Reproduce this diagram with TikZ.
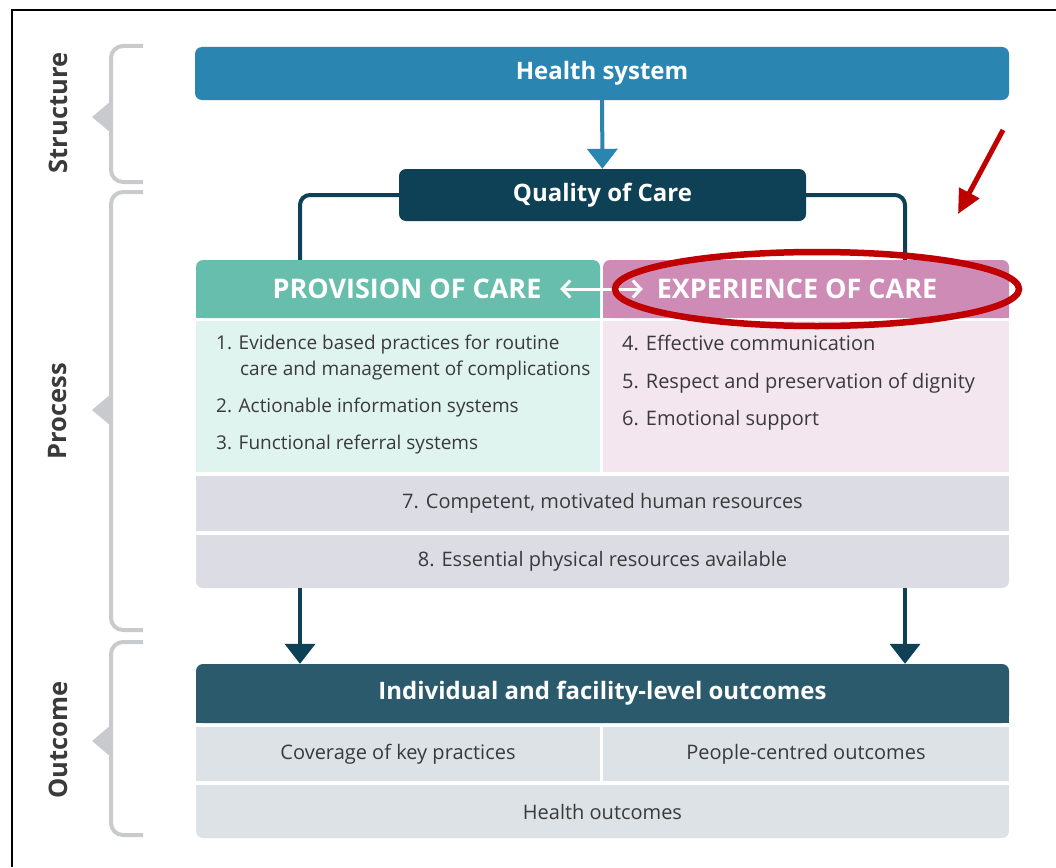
\documentclass[tikz,border=0pt]{standalone}
\usepackage{fontspec}
\setmainfont{Open Sans}
\usetikzlibrary{arrows.meta, positioning, backgrounds}
\definecolor{qochealth}{HTML}{2A86B0}
\definecolor{qocdark}{HTML}{0E4056}
\definecolor{qocteal}{HTML}{67BEAC}
\definecolor{qocpink}{HTML}{CE8BB6}
\definecolor{qoctealbg}{HTML}{DFF3EF}
\definecolor{qocpinkbg}{HTML}{F3E6EF}
\definecolor{qocres}{HTML}{DCDCE5}
\definecolor{qocout}{HTML}{2C5A6D}
\definecolor{qocoutbg}{HTML}{DCE2E6}
\definecolor{qocbrace}{HTML}{C9CACD}
\definecolor{qoctext}{HTML}{3A3A3A}
\definecolor{qocred}{HTML}{C00000}

\begin{document}
\begin{tikzpicture}[x=1pt, y=-1pt,
  head/.style={rectangle, rounded corners=7pt, inner sep=0pt, text=white, font=\fontsize{24}{28}\selectfont\bfseries},
  panel/.style={rectangle, inner sep=0pt, text=qoctext, font=\fontsize{20}{24}\selectfont},
  items/.style={anchor=north west, inner sep=0pt, align=left, text=qoctext, font=\fontsize{19}{26}\selectfont},
  side/.style={rotate=90, inner sep=0pt, text=qoctext, font=\fontsize{25.5}{28}\selectfont\bfseries},
  brace/.style={draw=qocbrace, line width=4pt, rounded corners=12pt},
  link/.style={draw=qocdark, line width=4pt, rounded corners=10pt},
  harrow/.style={draw=qochealth, line width=4pt, -{Triangle[width=30pt,length=20pt]}},
  down/.style={draw=qocdark, line width=4pt, -{Triangle[width=30pt,length=20pt]}},
  both/.style={draw=white, line width=3pt, {Straight Barb[length=8pt,width=17pt]}-{Straight Barb[length=8pt,width=17pt]}},
  redring/.style={draw=qocred, line width=6.5pt},
  redarrow/.style={draw=qocred, line width=5pt, -{Triangle[width=22pt,length=24pt]}}
]
\useasboundingbox (0,0) rectangle (1056,867);
\draw[line width=2pt] (1056,10) -- (12,10) -- (12,867);

% side brackets
\foreach \top/\bot/\mid in {46/182/117, 192/630/410, 642/835/741}{
  \draw[brace] (143,\top) -- (111,\top) -- (111,\bot) -- (143,\bot);
  \fill[qocbrace] (111,\mid-16) -- (92,\mid) -- (111,\mid+16) -- cycle;
}
\node[side] (structure) at (58,113) {Structure};
\node[side] (process) at (58,411) {Process};
\node[side] (outcome) at (58,740) {Outcome};

% structure
\node[head, fill=qochealth, minimum width=814, minimum height=53] (health) at (602,73.5) {Health system};
\node[head, fill=qocdark, minimum width=407, minimum height=52] (qoc) at (602.5,195) {Quality of Care};

% process
\node[head, fill=qocteal, minimum width=404, minimum height=58, font=\fontsize{27}{30}\selectfont\bfseries] (provhead) at (398,289) {\hspace*{18pt}PROVISION OF CARE};
\node[head, fill=qocpink, minimum width=406, minimum height=58, font=\fontsize{27}{30}\selectfont\bfseries] (exphead) at (806,289) {EXPERIENCE OF CARE\hspace*{18pt}};
\node[panel, fill=qoctealbg, minimum width=404, minimum height=151] (provbody) at (398,396.5) {};
\node[panel, fill=qocpinkbg, minimum width=406, minimum height=151] (expbody) at (806,396.5) {};
\node[items] (provlist) at (216,335) {1. Evidence based practices for routine\\
  \hspace*{24pt}care and management of complications\\[11pt]
  2. Actionable information systems\\[11pt]
  3. Functional referral systems};
\node[items, font=\fontsize{20}{26}\selectfont] (explist) at (622,335) {4. Effective communication\\[11.5pt]
  5. Respect and preservation of dignity\\[11.5pt]
  6. Emotional support};
\node[panel, fill=qocres, minimum width=813, minimum height=55] (res7) at (602.5,503.5) {7. Competent, motivated human resources};
\node[panel, fill=qocres, minimum width=813, minimum height=53, rounded corners=7pt] (res8) at (602.5,561.5) {8. Essential physical resources available};

% outcome
\node[head, fill=qocout, minimum width=813, minimum height=59] (outhead) at (602.5,693.5) {Individual and facility-level outcomes};
\node[panel, fill=qocoutbg, minimum width=404, minimum height=54] (cov) at (398,754) {Coverage of key practices};
\node[panel, fill=qocoutbg, minimum width=406, minimum height=54] (people) at (806,754) {People-centred outcomes};
\node[panel, fill=qocoutbg, minimum width=813, minimum height=53, rounded corners=7pt] (healthout) at (602.5,811.5) {Health outcomes};

% square off the inner corners
\begin{scope}[on background layer]
  \fill[qocteal] (provhead.west) rectangle (provhead.south east);
  \fill[qocpink] (exphead.west) rectangle (exphead.south east);
  \fill[qocres] (res8.north west) rectangle (res8.east);
  \fill[qocout] (outhead.west) rectangle (outhead.south east);
  \fill[qocoutbg] (healthout.north west) rectangle (healthout.east);
\end{scope}

\coordinate (lft) at (300,0);
\coordinate (rgt) at (905,0);
\draw[harrow] (health) -- (qoc);
\draw[link] (qoc.west) -| (provhead.north -| lft);
\draw[link] (qoc.east) -| (exphead.north -| rgt);
\draw[both] ([xshift=-40]provhead.east) -- ([xshift=40]exphead.west);
\draw[down] (res8.south -| lft) -- (outhead.north -| lft);
\draw[down] (res8.south -| rgt) -- (outhead.north -| rgt);

% highlight
\draw[redring] ([xshift=11]exphead.center) ellipse [x radius=202, y radius=37];
\coordinate (pointer) at (1003,130);
\coordinate (pointed) at (958,214);
\draw[redarrow] (pointer) -- (pointed);
\end{tikzpicture}
\end{document}
